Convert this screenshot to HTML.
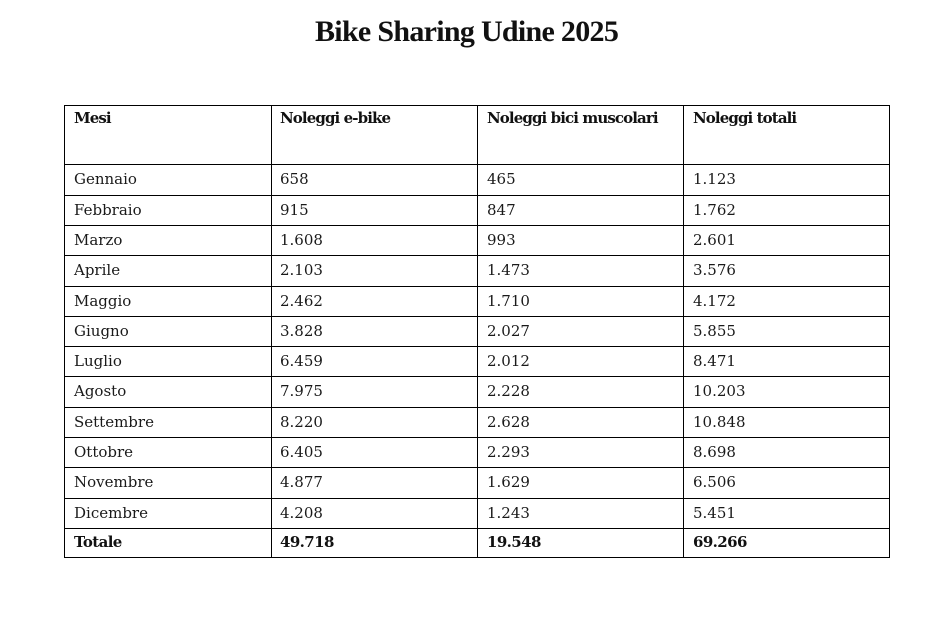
<!DOCTYPE html>
<html>
<head>
<meta charset="utf-8">
<style>
html,body{margin:0;padding:0;background:#fff;}
body{width:951px;height:618px;position:relative;overflow:hidden;}
.title{position:absolute;left:315px;top:17px;font-family:"Liberation Serif",serif;font-weight:bold;font-size:30px;line-height:30px;letter-spacing:-0.7px;color:#111;white-space:nowrap;}
.h{position:absolute;left:64px;width:826px;height:1px;background:#000;}
.v{position:absolute;top:105px;height:453px;width:1px;background:#000;}
.row{position:absolute;left:0;width:951px;height:15px;font-family:"DejaVu Serif",serif;font-size:15px;line-height:15px;color:#1a1a1a;white-space:nowrap;}
.row span{position:absolute;top:0;}
.row .c1{left:74px;}
.row .c2{left:280px;}
.row .c3{left:487px;}
.row .c4{left:693px;}
.hdr{font-weight:bold;font-size:15px;line-height:15px;letter-spacing:-0.9px;color:#111;}
.tot{font-weight:bold;font-size:15px;line-height:15px;letter-spacing:-0.6px;color:#111;}
</style>
</head>
<body>
<div class="title">Bike Sharing Udine 2025</div>

<div class="h" style="top:105px"></div>
<div class="h" style="top:164px"></div>
<div class="h" style="top:195px"></div>
<div class="h" style="top:225px"></div>
<div class="h" style="top:255px"></div>
<div class="h" style="top:286px"></div>
<div class="h" style="top:316px"></div>
<div class="h" style="top:346px"></div>
<div class="h" style="top:376px"></div>
<div class="h" style="top:407px"></div>
<div class="h" style="top:437px"></div>
<div class="h" style="top:467px"></div>
<div class="h" style="top:498px"></div>
<div class="h" style="top:528px"></div>
<div class="h" style="top:557px"></div>

<div class="v" style="left:64px"></div>
<div class="v" style="left:271px"></div>
<div class="v" style="left:477px"></div>
<div class="v" style="left:683px"></div>
<div class="v" style="left:889px"></div>

<div class="row hdr" style="top:111px"><span class="c1">Mesi</span><span class="c2">Noleggi e-bike</span><span class="c3">Noleggi bici muscolari</span><span class="c4">Noleggi totali</span></div>

<div class="row" style="top:172px"><span class="c1">Gennaio</span><span class="c2">658</span><span class="c3">465</span><span class="c4">1.123</span></div>
<div class="row" style="top:203px"><span class="c1">Febbraio</span><span class="c2">915</span><span class="c3">847</span><span class="c4">1.762</span></div>
<div class="row" style="top:233px"><span class="c1">Marzo</span><span class="c2">1.608</span><span class="c3">993</span><span class="c4">2.601</span></div>
<div class="row" style="top:263px"><span class="c1">Aprile</span><span class="c2">2.103</span><span class="c3">1.473</span><span class="c4">3.576</span></div>
<div class="row" style="top:294px"><span class="c1">Maggio</span><span class="c2">2.462</span><span class="c3">1.710</span><span class="c4">4.172</span></div>
<div class="row" style="top:324px"><span class="c1">Giugno</span><span class="c2">3.828</span><span class="c3">2.027</span><span class="c4">5.855</span></div>
<div class="row" style="top:354px"><span class="c1">Luglio</span><span class="c2">6.459</span><span class="c3">2.012</span><span class="c4">8.471</span></div>
<div class="row" style="top:384px"><span class="c1">Agosto</span><span class="c2">7.975</span><span class="c3">2.228</span><span class="c4">10.203</span></div>
<div class="row" style="top:415px"><span class="c1">Settembre</span><span class="c2">8.220</span><span class="c3">2.628</span><span class="c4">10.848</span></div>
<div class="row" style="top:445px"><span class="c1">Ottobre</span><span class="c2">6.405</span><span class="c3">2.293</span><span class="c4">8.698</span></div>
<div class="row" style="top:475px"><span class="c1">Novembre</span><span class="c2">4.877</span><span class="c3">1.629</span><span class="c4">6.506</span></div>
<div class="row" style="top:506px"><span class="c1">Dicembre</span><span class="c2">4.208</span><span class="c3">1.243</span><span class="c4">5.451</span></div>
<div class="row tot" style="top:535px"><span class="c1">Totale</span><span class="c2">49.718</span><span class="c3">19.548</span><span class="c4">69.266</span></div>
</body>
</html>
